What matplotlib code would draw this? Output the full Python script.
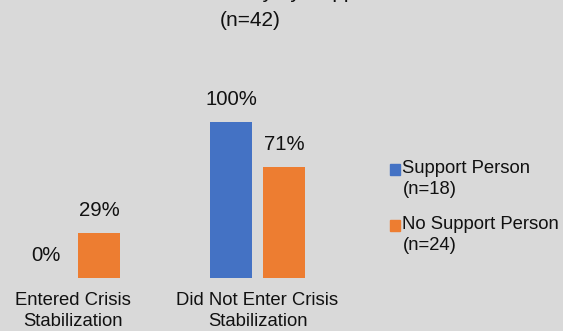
import matplotlib
matplotlib.use('Agg')
import matplotlib.pyplot as plt
import matplotlib.patches as mpatches
from matplotlib.legend_handler import HandlerPatch
import numpy as np

plt.rcParams.update({'font.family': ['Liberation Sans', 'DejaVu Sans']})

categories = ['Entered Crisis\nStabilization', 'Did Not Enter Crisis\nStabilization']
series = ['Support Person\n(n=18)', 'No Support Person\n(n=24)']
support = [0, 100]
no_support = [29, 71]
title_lines = ['Crisis Stabilization Entry by Support Person', '(n=42)']

colors = ['#4472C4', '#ED7D31']
bg = '#D9D9D9'

W, H = 563, 331
fig = plt.figure(figsize=(W / 100, H / 100), dpi=100, facecolor=bg)

# axes placed in pixel terms
ax_left, ax_right, ax_bottom, ax_top = 0, 360, 53, 231
ax = fig.add_axes([ax_left / W, ax_bottom / H, (ax_right - ax_left) / W, (ax_top - ax_bottom) / H])
ax.set_facecolor(bg)

spacing = 185.0
x = np.arange(len(categories))
off = 26.5 / spacing
width = 42 / spacing

for vals, dx, c, lab in zip([support, no_support], [-off, off], colors, series):
    bars = ax.bar(x + dx, vals, width, color=c, label=lab)
    for b, v in zip(bars, vals):
        ax.annotate('%d%%' % v, (b.get_x() + b.get_width() / 2, v),
                    xytext=(0, 9.5), textcoords='offset points',
                    ha='center', va='bottom', fontsize=14.7, color='#111111')

ax.set_xlim(-72.5 / spacing, -72.5 / spacing + (ax_right - ax_left) / spacing)
ax.set_ylim(0, 100 * (ax_top - ax_bottom) / 156.0)
ax.set_xticks(x)
ax.set_xticklabels(categories, fontsize=13.3, color='#111111', linespacing=1.3)
ax.tick_params(axis='x', length=0, pad=10)
ax.set_yticks([])
for s in ax.spines.values():
    s.set_visible(False)


def square(legend, orig_handle, xdescent, ydescent, width, height, fontsize):
    return mpatches.Rectangle((0, height * 0.95), width, height)


handles = [mpatches.Patch(color=c) for c in colors]
leg = fig.legend(handles, series, loc='upper left', bbox_to_anchor=(390 / W, 1 - 160 / H),
                 frameon=False, fontsize=13.3, handlelength=0.55, handleheight=0.55,
                 handletextpad=0.12, labelspacing=1.0, borderpad=0, borderaxespad=0,
                 handler_map={mpatches.Patch: HandlerPatch(patch_func=square)})
for t in leg.get_texts():
    t.set_linespacing(1.3)
    t.set_color('#111111')

fig.text(250 / W, 1 + 2 / H, title_lines[0], ha='center', va='baseline', fontsize=15, color='#111111')
fig.text(250 / W, 1 - 21 / H, title_lines[1], ha='center', va='center', fontsize=15, color='#111111')

fig.savefig('out.png', dpi=100, facecolor=bg)
